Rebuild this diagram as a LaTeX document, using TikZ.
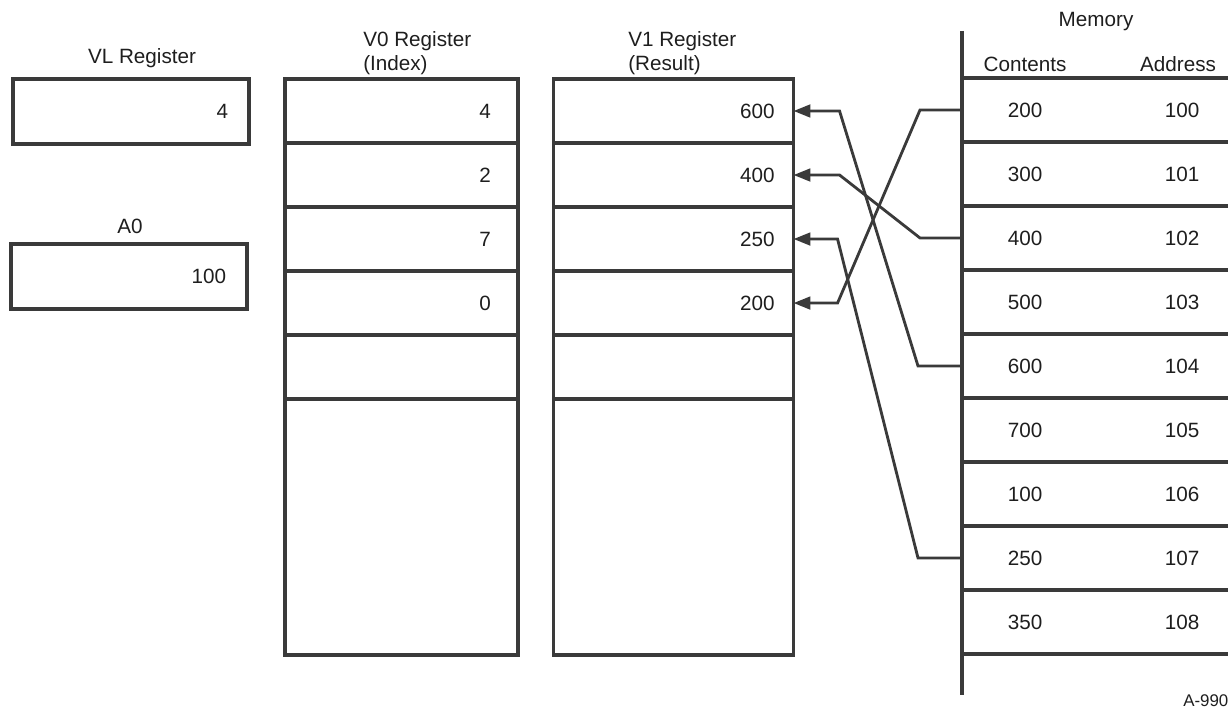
\documentclass[tikz,border=0pt]{standalone}
\usepackage{fontspec}
\setmainfont{Liberation Sans}
\usetikzlibrary{positioning,arrows.meta}
\definecolor{ink}{HTML}{3A3A3A}
\definecolor{txt}{HTML}{1E1E1E}
\tikzset{
  lbl/.style={text=txt, font=\fontsize{14.7}{17}\selectfont, inner sep=0pt},
  twoline/.style={lbl, anchor=west, align=left},
  box/.style={draw=ink, line width=2.6pt, rectangle, inner sep=0pt, outer sep=0pt,
    minimum height=1.6cm, align=right, text=txt, font=\fontsize{14.7}{17}\selectfont},
  v0cell/.style={box, minimum width=5.825cm, text width=4.47cm},
  v1cell/.style={box, minimum width=6cm, text width=5.05cm},
  sreg/.style={box, minimum width=5.9cm, minimum height=1.62cm, text width=4.85cm},
  rule/.style={draw=ink, line width=2.2pt},
  link/.style={draw=ink, line width=2pt, -{Triangle[length=12pt,width=9pt]}}
}
\begin{document}
\begin{tikzpicture}[x=0.025cm, y=-0.025cm]
\useasboundingbox (0,0) rectangle (1228,720);
\node[sreg] (vl) at (131,111.5) {4};
\node[sreg] (acc) at (129,276.5) {100};
\node[lbl] (vllbl) at (142,58) {VL Register};
\node[lbl] (acclbl) at (130,226) {A0};
\node[twoline] (v0lbl) at (363,53) {V0 Register\\(Index)};
\node[twoline] (v1lbl) at (628,53) {V1 Register\\(Result)};
\node[v0cell] (x1) at (401.5,111) {4};
\node[v0cell, below=0pt of x1] (x2) {2};
\node[v0cell, below=0pt of x2] (x3) {7};
\node[v0cell, below=0pt of x3] (x4) {0};
\node[v0cell, below=0pt of x4] (x5) {};
\node[v0cell, minimum height=6.4cm, below=0pt of x5] (x6) {};
\node[v1cell] (y1) at (673.5,111) {600};
\node[v1cell, below=0pt of y1] (y2) {400};
\node[v1cell, below=0pt of y2] (y3) {250};
\node[v1cell, below=0pt of y3] (y4) {200};
\node[v1cell, below=0pt of y4] (y5) {};
\node[v1cell, minimum height=6.4cm, below=0pt of y5] (y6) {};
\coordinate (mtop) at (962,31);
\coordinate (mbot) at (962,695);
\draw[rule, line width=2.6pt] (mtop) -- (mbot);
\node[lbl] (memlbl) at (1096,22) {Memory};
\node[lbl] (conlbl) at (1025,64) {Contents};
\node[lbl] (adrlbl) at (1178,64) {Address};
\foreach \i in {0,...,9}
  \draw[rule] (962,{78+64*\i}) -- (1228,{78+64*\i});
\foreach \c/\a [count=\i from 0] in {200/100,300/101,400/102,500/103,600/104,700/105,100/106,250/107,350/108}{
  \node[lbl] (c\i) at (1025,{110+64*\i}) {\c};
  \node[lbl] (a\i) at (1182,{110+64*\i}) {\a};
}
\draw[link] (c0 -| mtop) -- ++(-42,0) -- ([xshift=1.1cm]y4.east) -- (y4.east);
\draw[link] (c2 -| mtop) -- ++(-42,0) -- ([xshift=1.15cm]y2.east) -- (y2.east);
\draw[link] (c4 -| mtop) -- ++(-44,0) -- ([xshift=1.15cm]y1.east) -- (y1.east);
\draw[link] (c7 -| mtop) -- ++(-44,0) -- ([xshift=1.1cm]y3.east) -- (y3.east);
\node[lbl, font=\fontsize{12}{14}\selectfont, anchor=west] (tag) at (1183,701) {A-990};
\end{tikzpicture}
\end{document}
